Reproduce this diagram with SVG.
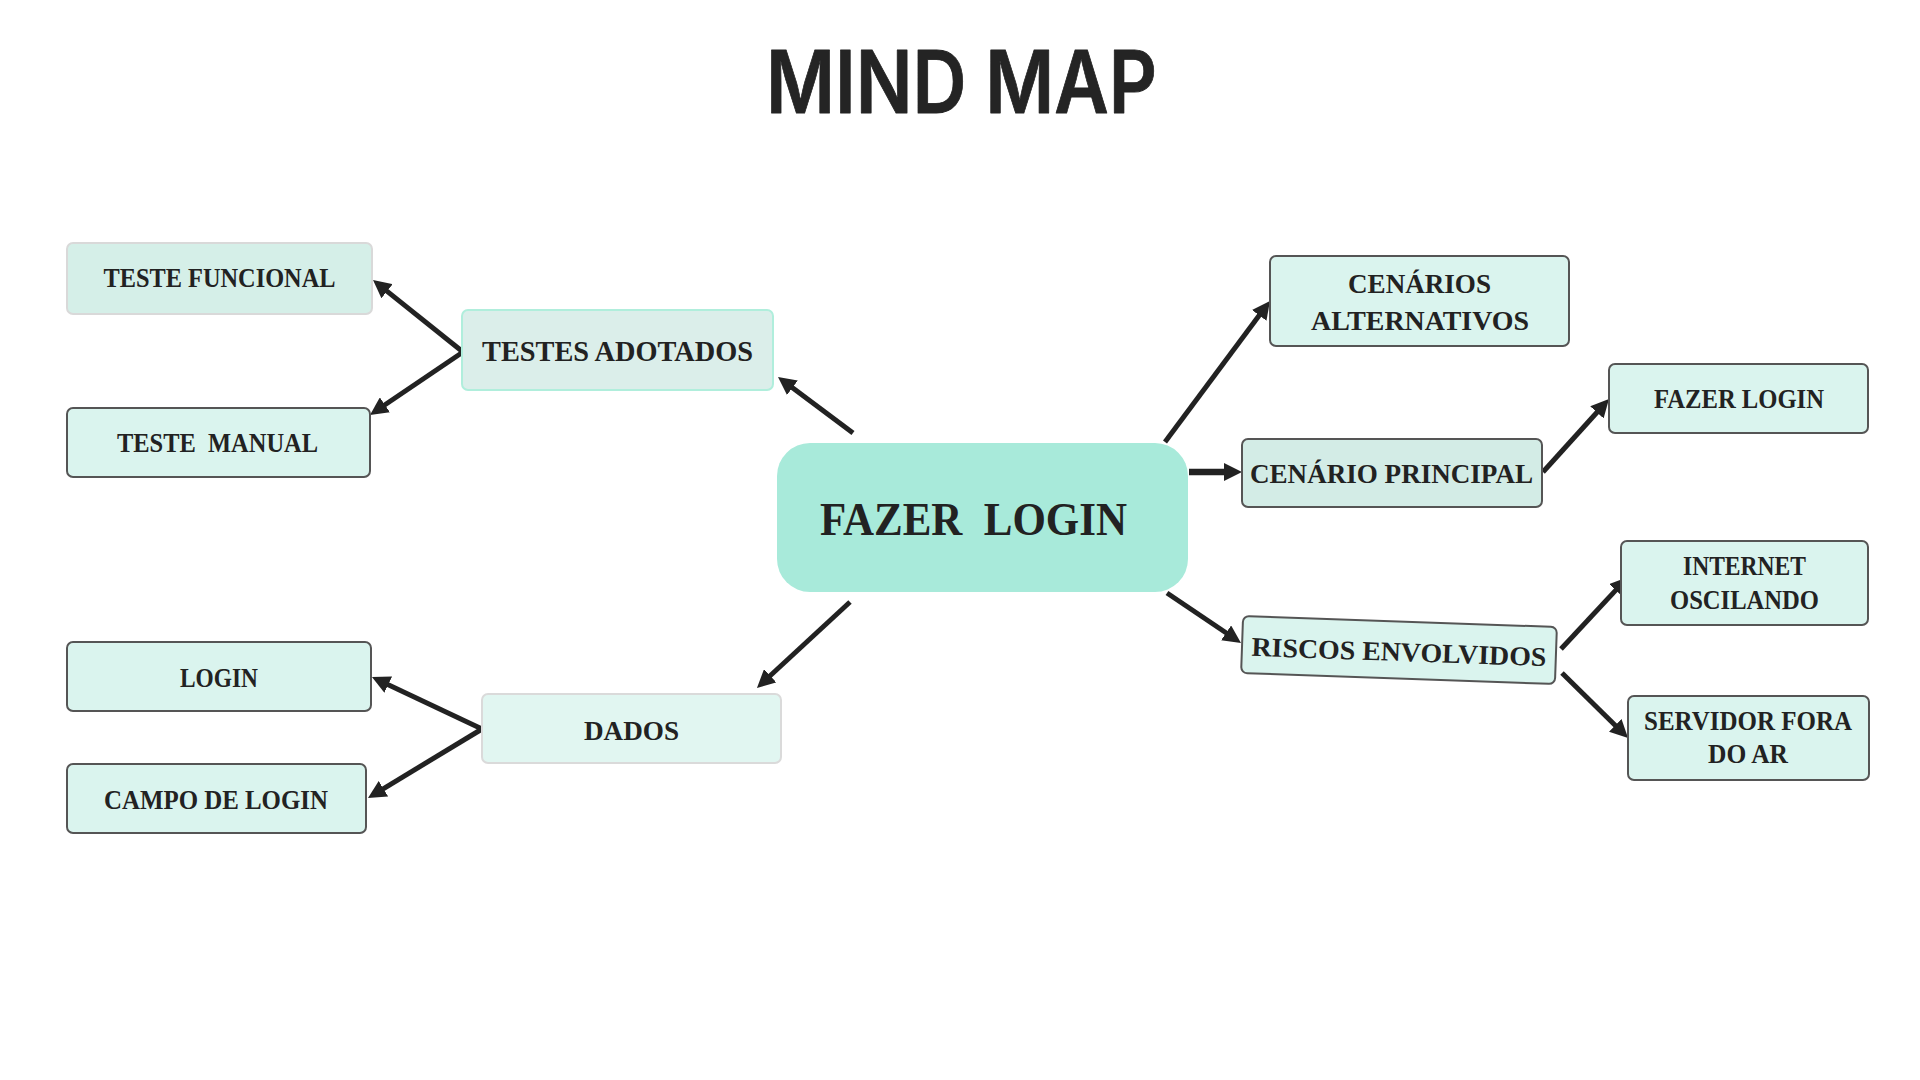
<svg xmlns="http://www.w3.org/2000/svg" width="1920" height="1080" viewBox="0 0 1920 1080">
<defs>
<style>
.bg{fill:#ffffff}
.title{font-family:Inter,"Liberation Sans",sans-serif;font-weight:600;font-size:86px;fill:#242424;stroke:#242424;stroke-width:0.8;stroke-linejoin:round}
.box{fill:#daf4ee;stroke:#555555;stroke-width:2}
.lbl{font-family:"Liberation Serif","DejaVu Serif",serif;font-weight:700;font-size:27px;fill:#222222;text-anchor:middle;white-space:pre}
.big{font-size:47px}
.conn line{stroke:#222222;stroke-width:5;fill:none}
</style>
<marker id="ah" markerUnits="userSpaceOnUse" markerWidth="18" markerHeight="18" refX="7" refY="9" orient="auto">
<path d="M0,0 L18,9 L0,18 z" fill="#222222"/>
</marker>
</defs>
<rect class="bg" x="0" y="0" width="1920" height="1080"/>
<text class="title" x="961.5" y="113" text-anchor="middle" textLength="391" lengthAdjust="spacingAndGlyphs">MIND MAP</text>

<g id="connectors" class="conn">
<line x1="463" y1="352" x2="381.6" y2="286.9" marker-end="url(#ah)"/>
<line x1="463" y1="352" x2="379.1" y2="408.8" marker-end="url(#ah)"/>
<line x1="853" y1="433" x2="786.8" y2="383.6" marker-end="url(#ah)"/>
<line x1="850" y1="602" x2="765" y2="680.5" marker-end="url(#ah)"/>
<line x1="482" y1="729" x2="381.9" y2="681.7" marker-end="url(#ah)"/>
<line x1="482" y1="729" x2="377.4" y2="792.3" marker-end="url(#ah)"/>
<line x1="1165" y1="442" x2="1263.4" y2="309.8" marker-end="url(#ah)"/>
<line x1="1189" y1="472" x2="1231" y2="472" style="stroke-width:6.5" marker-end="url(#ah)"/>
<line x1="1543" y1="472" x2="1601.6" y2="407.2" marker-end="url(#ah)"/>
<line x1="1167" y1="593" x2="1231.9" y2="636.8" marker-end="url(#ah)"/>
<line x1="1561" y1="649" x2="1620.5" y2="585.1" marker-end="url(#ah)"/>
<line x1="1562" y1="673" x2="1620.2" y2="730.3" marker-end="url(#ah)"/>
</g>

<g id="teste-funcional">
<rect class="box" x="67" y="243" width="305" height="71" rx="6" style="fill:#d5efe8;stroke:#d9d9d9"/>
<text class="lbl" x="219.5" y="287" textLength="232" lengthAdjust="spacingAndGlyphs">TESTE FUNCIONAL</text>
</g>
<g id="testes-adotados">
<rect class="box" x="462" y="310" width="311" height="80" rx="6" style="fill:#dbeeea;stroke:#b0eedc"/>
<text class="lbl" x="617.5" y="361" style="font-size:29px" textLength="271" lengthAdjust="spacingAndGlyphs">TESTES ADOTADOS</text>
</g>
<g id="teste-manual">
<rect class="box" x="67" y="408" width="303" height="69" rx="6"/>
<text class="lbl" x="217.5" y="452" textLength="201" lengthAdjust="spacingAndGlyphs">TESTE  MANUAL</text>
</g>
<g id="login">
<rect class="box" x="67" y="642" width="304" height="69" rx="6"/>
<text class="lbl" x="219" y="687" textLength="78" lengthAdjust="spacingAndGlyphs">LOGIN</text>
</g>
<g id="campo-de-login">
<rect class="box" x="67" y="764" width="299" height="69" rx="6"/>
<text class="lbl" x="216" y="809" textLength="224" lengthAdjust="spacingAndGlyphs">CAMPO DE LOGIN</text>
</g>
<g id="dados">
<rect class="box" x="482" y="694" width="299" height="69" rx="6" style="fill:#e1f6f1;stroke:#dadada"/>
<text class="lbl" x="631.5" y="740" textLength="95" lengthAdjust="spacingAndGlyphs">DADOS</text>
</g>
<g id="fazer-login-central">
<rect x="777" y="443" width="411" height="149" rx="33" fill="#a8eada"/>
<text class="lbl big" x="973.5" y="535" textLength="307" lengthAdjust="spacingAndGlyphs">FAZER  LOGIN</text>
</g>
<g id="cenarios-alternativos">
<rect class="box" x="1270" y="256" width="299" height="90" rx="6"/>
<text class="lbl" x="1419.5" y="293" textLength="143" lengthAdjust="spacingAndGlyphs">CENÁRIOS</text>
<text class="lbl" x="1420" y="330" textLength="218" lengthAdjust="spacingAndGlyphs">ALTERNATIVOS</text>
</g>
<g id="cenario-principal">
<rect class="box" x="1242" y="439" width="300" height="68" rx="6" style="fill:#d3ece6"/>
<text class="lbl" x="1391.5" y="483" textLength="283" lengthAdjust="spacingAndGlyphs">CENÁRIO PRINCIPAL</text>
</g>
<g id="fazer-login">
<rect class="box" x="1609" y="364" width="259" height="69" rx="6"/>
<text class="lbl" x="1739" y="408" textLength="170" lengthAdjust="spacingAndGlyphs">FAZER LOGIN</text>
</g>
<g id="riscos-envolvidos" transform="translate(1399 650) rotate(2)">
<rect class="box" x="-157" y="-28.5" width="314" height="57" rx="6"/>
<text class="lbl" x="0" y="11" textLength="295" lengthAdjust="spacingAndGlyphs">RISCOS ENVOLVIDOS</text>
</g>
<g id="internet-oscilando">
<rect class="box" x="1621" y="541" width="247" height="84" rx="6"/>
<text class="lbl" x="1744.5" y="575" textLength="123" lengthAdjust="spacingAndGlyphs">INTERNET</text>
<text class="lbl" x="1744.5" y="609" textLength="149" lengthAdjust="spacingAndGlyphs">OSCILANDO</text>
</g>
<g id="servidor-fora-do-ar">
<rect class="box" x="1628" y="696" width="241" height="84" rx="6"/>
<text class="lbl" x="1748" y="730" textLength="208" lengthAdjust="spacingAndGlyphs">SERVIDOR FORA</text>
<text class="lbl" x="1748" y="763" textLength="80" lengthAdjust="spacingAndGlyphs">DO AR</text>
</g>
</svg>
